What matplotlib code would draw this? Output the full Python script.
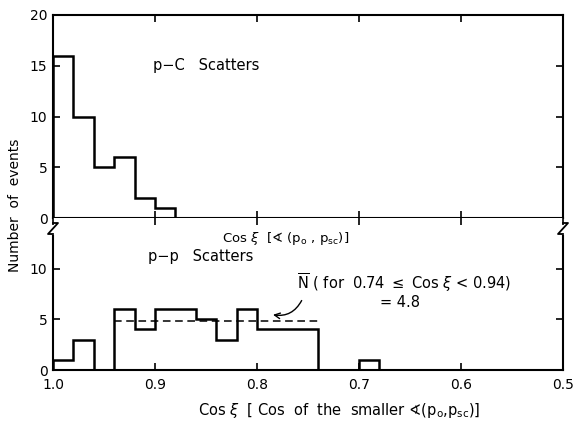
import numpy as np
import matplotlib
matplotlib.use("Agg")
import matplotlib.pyplot as plt

# bin edges (cos xi) and counts
pc_edges = [1.00, 0.98, 0.96, 0.94, 0.92, 0.90, 0.88]
pc_counts = [16, 10, 5, 6, 2, 1]

pp_edges = [1.00, 0.98, 0.96, 0.94, 0.92, 0.90, 0.88, 0.86, 0.84, 0.82,
            0.80, 0.78, 0.76, 0.74, 0.72, 0.70, 0.68]
pp_counts = [1, 3, 0, 6, 4, 6, 6, 5, 3, 6, 4, 4, 4, 0, 0, 1]

mean_lo, mean_hi, mean_val = 0.74, 0.94, 4.8

x_ticks = [1.0, 0.9, 0.8, 0.7, 0.6, 0.5]
x_labels = ["1.0", "0.9", "0.8", "0.7", "0.6", "0.5"]

plt.rcParams["font.family"] = ["DejaVu Sans"]
fig = plt.figure(figsize=(5.73, 4.25), dpi=100)
W, H = 573, 425
x0, x1 = 53, 563
top_t, mid, bot_b = 15, 218, 370
ax_top = fig.add_axes([x0 / W, 1 - mid / H, (x1 - x0) / W, (mid - top_t) / H])
ax_bot = fig.add_axes([x0 / W, 1 - bot_b / H, (x1 - x0) / W, (bot_b - mid) / H])

lw_hist = 1.8
ax_top.stairs(pc_counts[::-1], pc_edges[::-1], baseline=0, color="black", lw=lw_hist)
ax_bot.stairs(pp_counts[::-1], pp_edges[::-1], baseline=0, color="black", lw=lw_hist)
ax_bot.plot([mean_hi, mean_lo], [mean_val, mean_val], color="black", lw=1.1,
            dashes=(5, 3))

for ax in (ax_top, ax_bot):
    ax.set_xlim(1.0, 0.5)
    for s in ax.spines.values():
        s.set_linewidth(1.5)
    ax.tick_params(direction="in", top=True, right=True, length=5, width=1.2,
                   labelsize=10)
    ax.tick_params(axis="y", pad=4)
    ax.tick_params(axis="x", pad=6)
    ax.set_xticks(x_ticks)

ax_top.set_ylim(0, 20)
ax_top.set_yticks([0, 5, 10, 15, 20])
ax_top.set_xticklabels([])

ax_bot.set_ylim(0, 15)
ax_bot.set_yticks([0, 5, 10])
ax_bot.set_xticklabels(x_labels)
ax_bot.spines["top"].set_visible(False)
ax_bot.spines["left"].set_bounds(0, 13.2)
ax_bot.spines["right"].set_bounds(0, 13.2)

# axis break zig-zags (pixel offsets from top corners of the lower panel)
zz_x = [0, 5, -5, 0]
zz_y = [-5, -5, -16, -16]
for xa in (0, 1):
    px = [xa + dx / (x1 - x0) for dx in zz_x]
    py = [1 + dy / (bot_b - mid) for dy in zz_y]
    ax_bot.plot(px, py, transform=ax_bot.transAxes, color="black", lw=1.3,
                clip_on=False)

ax_top.text(0.902, 15.0, "p\u2212C   Scatters", fontsize=10.5, va="center", ha="left")
ax_bot.text(0.907, 11.2, "p\u2212p   Scatters", fontsize=10.5, va="center", ha="left")
ax_bot.text(0.834, 13.0, r"Cos $\xi$  [$\sphericalangle$ (p$_{\rm o}$ , p$_{\rm sc}$)]",
            fontsize=9.5, va="center", ha="left")
ax_bot.text(0.761, 8.6, r"$\overline{\rm N}$ ( for  0.74 $\leq$ Cos $\xi$ < 0.94)",
            fontsize=10.5, va="center", ha="left")
ax_bot.text(0.679, 6.7, "= 4.8", fontsize=10.5, va="center", ha="left")
ax_bot.annotate("", xy=(0.787, 5.5), xytext=(0.755, 7.1),
                arrowprops=dict(arrowstyle="->", color="black", lw=1.0,
                                connectionstyle="arc3,rad=-0.4"))

fig.text(0.026, 0.518, "Number  of  events", rotation=90, fontsize=10,
         ha="center", va="center")
fig.text(0.592, 0.035,
         r"Cos $\xi$  [ Cos  of  the  smaller $\sphericalangle$(p$_{\rm o}$,p$_{\rm sc}$)]",
         fontsize=10.5, ha="center", va="center")

fig.savefig("out.png", dpi=100)
